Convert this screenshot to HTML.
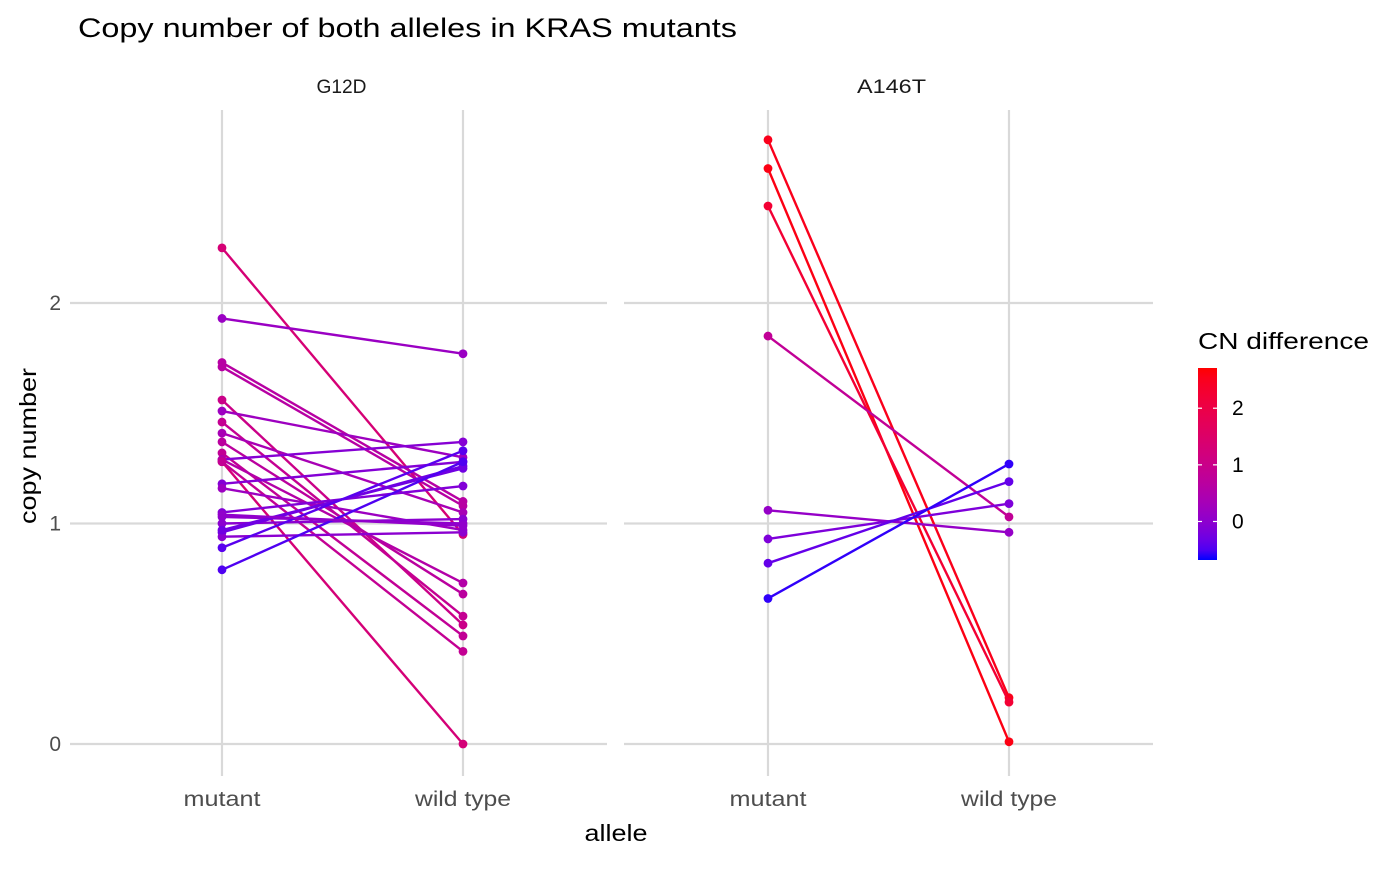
<!DOCTYPE html>
<html><head><meta charset="utf-8"><style>
body{margin:0;background:#fff;}
svg text{font-family:"Liberation Sans",sans-serif;}
</style></head><body>
<svg id="c" width="1400" height="865" xmlns="http://www.w3.org/2000/svg">
<text x="78" y="37" font-size="27" textLength="659" lengthAdjust="spacingAndGlyphs" fill="#000">Copy number of both alleles in KRAS mutants</text>
<text x="616" y="841" font-size="23" textLength="63" lengthAdjust="spacingAndGlyphs" text-anchor="middle" fill="#000">allele</text>
<text transform="translate(36,446) rotate(-90)" font-size="23" textLength="156" lengthAdjust="spacingAndGlyphs" text-anchor="middle" fill="#000">copy number</text>
<g id="panels"></g>
<g id="legend">
<text x="1198" y="349" font-size="23" textLength="171" lengthAdjust="spacingAndGlyphs" fill="#000">CN difference</text>
<defs><linearGradient id="gb" x1="0" y1="1" x2="0" y2="0"></linearGradient></defs>
<rect x="1198" y="368" width="19" height="192" fill="url(#gb)"/>
</g>
</svg>
<script>
const panelNames=["G12D","A146T"];
const g12dMutant=[2.25,1.93,1.73,1.71,1.56,1.51,1.46,1.41,1.37,1.32,1.29,1.29,1.28,1.28,1.18,1.16,1.05,1.03,1.00,0.96,0.94,0.97,0.89,0.79,1.04];
const g12dWild=[0.95,1.77,1.10,1.08,0.54,1.30,0.58,1.05,0.68,0.49,1.37,0.73,0.00,0.42,1.28,0.97,1.17,1.00,1.02,1.26,0.96,1.25,1.33,1.28,0.99];
const a146tMutant=[2.74,2.61,2.44,1.85,1.06,0.93,0.82,0.66];
const a146tWild=[0.21,0.01,0.19,1.03,0.96,1.09,1.19,1.27];
const yTicks=[0,1,2];
const legendTicks=[0,1,2];
const categories=["mutant","wild type"];
const ns="http://www.w3.org/2000/svg";
const svg=document.getElementById('c'),P=document.getElementById('panels');
const yS=v=>744-v*220.5;
const panels=[{x0:70,x1:607,cx:[222,463],m:g12dMutant,w:g12dWild,sw:50},{x0:624,x1:1153,cx:[768,1009],m:a146tMutant,w:a146tWild,sw:69}];
const catW=[77,96];
const cmin=-0.68,cmax=2.71;
function lin(c){c/=255;return c<=0.04045?c/12.92:Math.pow((c+0.055)/1.055,2.4);}
function toLab(r,g,b){r=lin(r);g=lin(g);b=lin(b);let X=(0.4124*r+0.3576*g+0.1805*b)/0.95047,Y=0.2126*r+0.7152*g+0.0722*b,Z=(0.0193*r+0.1192*g+0.9505*b)/1.08883;const f=t=>t>0.008856?Math.cbrt(t):7.787*t+16/116;return [116*f(Y)-16,500*(f(X)-f(Y)),200*(f(Y)-f(Z))];}
function fromLab(L,a,b){let fy=(L+16)/116,fx=fy+a/500,fz=fy-b/200;const fi=t=>t*t*t>0.008856?t*t*t:(t-16/116)/7.787;let X=fi(fx)*0.95047,Y=fi(fy),Z=fi(fz)*1.08883;let r=3.2406*X-1.5372*Y-0.4986*Z,g=-0.9689*X+1.8758*Y+0.0415*Z,bb=0.0557*X-0.2040*Y+1.0570*Z;const gm=c=>{c=c<=0.0031308?12.92*c:1.055*Math.pow(c,1/2.4)-0.055;return Math.round(Math.max(0,Math.min(1,c))*255);};return `rgb(${gm(r)},${gm(g)},${gm(bb)})`;}
const LB=toLab(0,0,255),LR=toLab(255,0,0);
function col(v){let t=(v-cmin)/(cmax-cmin);t=Math.max(0,Math.min(1,t));return fromLab(LB[0]+(LR[0]-LB[0])*t,LB[1]+(LR[1]-LB[1])*t,LB[2]+(LR[2]-LB[2])*t);}
function el(t,a,p){const e=document.createElementNS(ns,t);for(const k in a)e.setAttribute(k,a[k]);(p||P).appendChild(e);return e;}
panels.forEach((p,pi)=>{
 yTicks.forEach(v=>{const l=el('line',{x1:p.x0,x2:p.x1,y1:yS(v),y2:yS(v),stroke:'#d9d9d9','stroke-width':2.2});
 
 });
 p.cx.forEach((x,i)=>{const l=el('line',{x1:x,x2:x,y1:110,y2:776,stroke:'#d9d9d9','stroke-width':2.2});
 
 
 const t=el('text',{x:x,y:806,'font-size':21,'text-anchor':'middle',fill:'#4d4d4d',textLength:catW[i],lengthAdjust:'spacingAndGlyphs'});t.textContent=categories[i];
 
 });
 const st=el('text',{x:(p.x0+p.x1)/2+3,y:93,'font-size':19,'text-anchor':'middle',fill:'#1a1a1a',textLength:p.sw,lengthAdjust:'spacingAndGlyphs'});st.textContent=panelNames[pi];
 
 
 p.m.forEach((m,i)=>{const w=p.w[i],c=col(m-w);
  const l=el('line',{x1:p.cx[0],y1:yS(m),x2:p.cx[1],y2:yS(w),stroke:c,'stroke-width':2.4});
  
  
  [[p.cx[0],m],[p.cx[1],w]].forEach(q=>{const d=el('circle',{cx:q[0],cy:yS(q[1]),r:4.4,fill:c});
  
  });
 });
});
yTicks.forEach(v=>{const t=el('text',{x:61,y:yS(v)+7,'font-size':21,'text-anchor':'end',fill:'#4d4d4d'});t.textContent=v;

});
const gb=document.getElementById('gb');
for(let i=0;i<=20;i++){const s=document.createElementNS(ns,'stop');s.setAttribute('offset',i/20);s.setAttribute('stop-color',col(cmin+(cmax-cmin)*i/20));gb.appendChild(s);}
const lg=document.getElementById('legend');
const lY=v=>560-(v-cmin)/(cmax-cmin)*192;
legendTicks.forEach(v=>{el('line',{x1:1198,x2:1202,y1:lY(v),y2:lY(v),stroke:'#fff','stroke-width':1.2},lg);el('line',{x1:1213,x2:1217,y1:lY(v),y2:lY(v),stroke:'#fff','stroke-width':1.2},lg);
const t=el('text',{x:1232,y:lY(v)+7,'font-size':21,fill:'#000'},lg);t.textContent=v;

});
</script>
</body></html>
